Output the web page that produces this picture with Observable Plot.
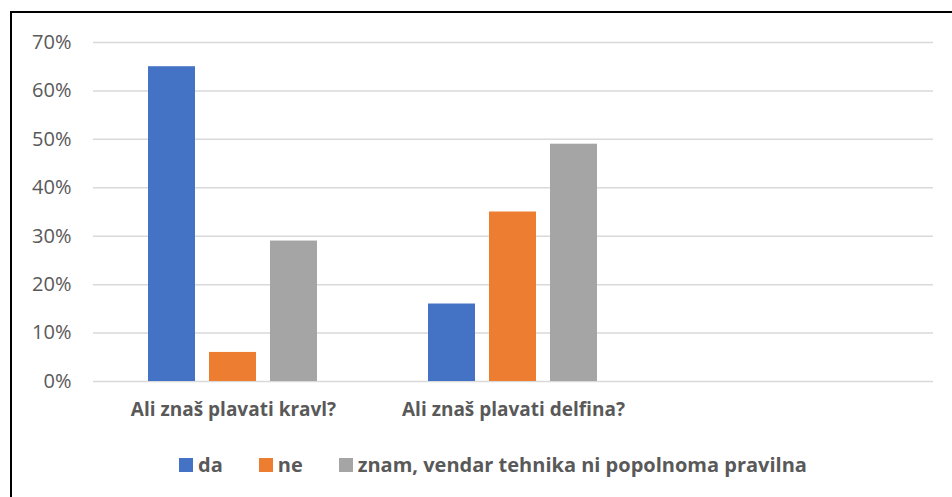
<!DOCTYPE html>
<html>
<head>
<meta charset="utf-8">
<script src="https://cdn.jsdelivr.net/npm/d3@7"></script>
<script src="https://cdn.jsdelivr.net/npm/@observablehq/plot@0.6"></script>
<style>
  html, body { margin: 0; padding: 0; background: #fff; }
  body { width: 952px; height: 497px; overflow: hidden; position: relative; font-family: "Open Sans", sans-serif; }
  #frame { position: absolute; left: 10px; top: 11px; width: 960px; height: 520px; border: 2px solid #000; box-sizing: border-box; }
  #chart { position: absolute; left: 12px; top: 13px; }
  #legend { position: absolute; top: 451px; left: 179px; display: flex; align-items: center; font-weight: bold; font-size: 20px; color: #595959; white-space: nowrap; }
  .item { display: flex; align-items: center; margin-right: 36px; }
  .sw { width: 14px; height: 14px; margin-right: 5px; }
</style>
</head>
<body>
<div id="frame"></div>
<div id="chart"></div>
<div id="legend"></div>
<script>
const questions = ["Ali znaš plavati kravl?", "Ali znaš plavati delfina?", "(prazno)"];
const series = ["da", "ne", "znam, vendar tehnika ni popolnoma pravilna"];
const colors = ["#4472C4", "#ED7D31", "#A5A5A5"];
const kravl = [65, 6, 29];
const delfina = [16, 35, 49];
const empty = [NaN, NaN, NaN];
const yTicks = [0, 10, 20, 30, 40, 50, 60, 70];

const data = [];
series.forEach((s, i) => data.push({q: questions[0], s, v: kravl[i]}));
series.forEach((s, i) => data.push({q: questions[1], s, v: delfina[i]}));
series.forEach((s, i) => data.push({q: questions[2], s, v: empty[i]}));

const chart = Plot.plot({
  width: 940,
  height: 420,
  marginLeft: 80,
  marginRight: 19,
  marginTop: 29,
  marginBottom: 52,
  style: {background: "transparent", fontFamily: "'Open Sans', sans-serif", color: "#595959"},
  fx: {domain: questions, padding: 0, label: null, axis: null},
  x: {domain: series, paddingInner: 0.226, paddingOuter: 0.873, axis: null},
  y: {domain: [0, 70], label: null, axis: null},
  color: {domain: series, range: colors},
  marks: [
    Plot.gridY(yTicks, {stroke: "#D9D9D9", strokeOpacity: 1, strokeWidth: 1.5}),
    Plot.axisY(yTicks, {tickSize: 0, tickPadding: 22, tickFormat: d => d + "%", fontSize: 20, fill: "#595959", label: null}),
    Plot.axisFx({anchor: "bottom", tickSize: 0, tickPadding: 21, fontSize: 19, fontWeight: "bold", fill: "#595959", label: null, tickFormat: d => d === "(prazno)" ? "" : d}),
    Plot.barY(data, {fx: "q", x: "s", y: "v", fill: "s"})
  ]
});
document.getElementById("chart").appendChild(chart);

const legend = document.getElementById("legend");
series.forEach((s, i) => {
  const it = document.createElement("div");
  it.className = "item";
  const sw = document.createElement("span");
  sw.className = "sw";
  sw.style.background = colors[i];
  const t = document.createElement("span");
  t.textContent = s;
  it.appendChild(sw);
  it.appendChild(t);
  legend.appendChild(it);
});
</script>
</body>
</html>
